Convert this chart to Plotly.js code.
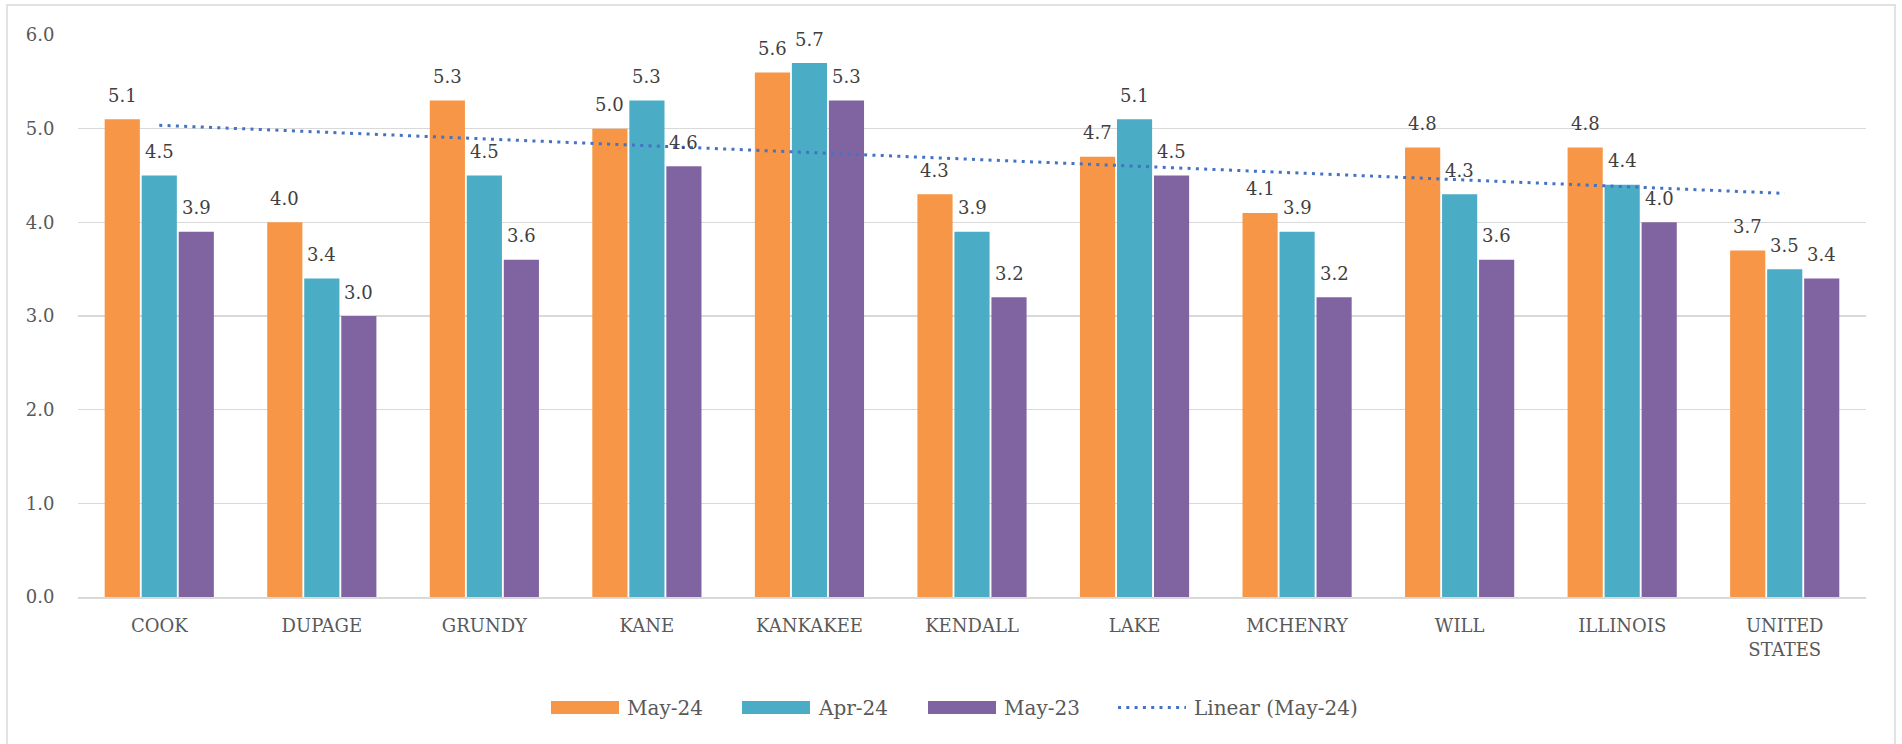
<!DOCTYPE html>
<html>
<head>
<meta charset="utf-8">
<script src="https://cdn.plot.ly/plotly-3.0.1.min.js"></script>
<style>
html,body{margin:0;padding:0;background:#fff;}
#chart{width:1902px;height:744px;}
</style>
</head>
<body>
<div id="chart"></div>
<script>
// ---- data ----
const categories = ["COOK","DUPAGE","GRUNDY","KANE","KANKAKEE","KENDALL","LAKE","MCHENRY","WILL","ILLINOIS","UNITED<br>STATES"];
const may24 = [5.1, 4.0, 5.3, 5.0, 5.6, 4.3, 4.7, 4.1, 4.8, 4.8, 3.7];
const apr24 = [4.5, 3.4, 4.5, 5.3, 5.7, 3.9, 5.1, 3.9, 4.3, 4.4, 3.5];
const may23 = [3.9, 3.0, 3.6, 4.6, 5.3, 3.2, 4.5, 3.2, 3.6, 4.0, 3.4];
const seriesNames = ["May-24", "Apr-24", "May-23"];
const trendName = "Linear (May-24)";
const yTicks = [0, 1, 2, 3, 4, 5, 6];

// ---- styles ----
const colors = ["#F79646", "#4BACC6", "#8064A2"];
const trendColor = "#4472C4";
const FONT = "DejaVu Serif, serif";
const TXT = "#595959";
const LBL = "#404040";
const DOT = "3px,5.3px";

// linear trendline (least squares on May-24, x = 1..n)
function linFit(vals){
  const n = vals.length;
  let sx=0, sy=0, sxx=0, sxy=0;
  vals.forEach((v,i)=>{const x=i+1; sx+=x; sy+=v; sxx+=x*x; sxy+=x*v;});
  const b = (n*sxy - sx*sy)/(n*sxx - sx*sx);
  const a = (sy - b*sx)/n;
  return vals.map((v,i)=>a + b*(i+1));
}
const trend = linFit(may24);

const allSeries = [may24, apr24, may23];
const bargap = 0.317;
const bargroupgap = 0.05;

const traces = [];
allSeries.forEach((vals, k) => {
  traces.push({
    type: "bar", x: categories, y: vals, name: seriesNames[k],
    marker: {color: colors[k]}, showlegend: false, hoverinfo: "x+y+name"
  });
});
traces.push({
  type: "scatter", mode: "lines", x: categories, y: trend, name: trendName,
  line: {color: trendColor, width: 3, dash: DOT}, showlegend: false
});

// data labels
const slot = (1 - bargap) / 3;
const annotations = [];
allSeries.forEach((vals, k) => {
  vals.forEach((v, i) => {
    annotations.push({
      xref: "x", yref: "y", x: i + (k - 1) * slot, y: v,
      text: v.toFixed(1), showarrow: false, yanchor: "middle", yshift: 24,
      font: {family: FONT, size: 18, color: LBL}
    });
  });
});

// geometry
const L = 78, R = 1866, T = 35, B = 597;
const pw = R - L, ph = B - T;
const px = v => (v - L) / pw, py = v => (B - v) / ph;

const shapes = [{
  type: "rect", xref: "paper", yref: "paper", layer: "below",
  x0: px(7), x1: px(1895), y0: py(748), y1: py(5),
  line: {color: "#d9d9d9", width: 1.5}, fillcolor: "rgba(0,0,0,0)"
}];

// legend (drawn manually so spacing matches the original)
const legY = 707.5;
const legSwatchX = [551, 742, 928, 1118];
const legSwatchW = 68;
const legNames = seriesNames.concat([trendName]);
legNames.forEach((name, i) => {
  const x0 = legSwatchX[i], x1 = x0 + legSwatchW;
  if (i < 3) {
    shapes.push({
      type: "rect", xref: "paper", yref: "paper",
      x0: px(x0), x1: px(x1), y0: py(legY + 6.5), y1: py(legY - 6.5),
      line: {width: 0}, fillcolor: colors[i]
    });
  } else {
    shapes.push({
      type: "line", xref: "paper", yref: "paper",
      x0: px(x0), x1: px(x1), y0: py(legY), y1: py(legY),
      line: {color: trendColor, width: 3, dash: DOT}
    });
  }
  annotations.push({
    xref: "paper", yref: "paper", x: px(x1 + 6), y: py(legY),
    xanchor: "left", yanchor: "middle", showarrow: false, text: name,
    font: {family: FONT, size: 20, color: TXT}
  });
});

const layout = {
  width: 1902, height: 744,
  margin: {l: L, r: 1902 - R, t: T, b: 744 - B, pad: 0},
  paper_bgcolor: "#fff", plot_bgcolor: "#fff",
  barmode: "group", bargap: bargap, bargroupgap: bargroupgap,
  font: {family: FONT, size: 18, color: TXT},
  showlegend: false,
  xaxis: {
    type: "category", showgrid: false, zeroline: false,
    showline: true, linecolor: "#d9d9d9", linewidth: 1.5,
    ticks: "outside", ticklen: 12, tickcolor: "rgba(0,0,0,0)",
    tickfont: {family: FONT, size: 18, color: TXT},
    range: [-0.5, categories.length - 0.5], fixedrange: true
  },
  yaxis: {
    range: [0, 6], tickvals: yTicks, ticktext: yTicks.map(v => v.toFixed(1)),
    showgrid: true, gridcolor: "#d9d9d9", gridwidth: 1.5, zeroline: false,
    ticks: "outside", ticklen: 19, tickcolor: "rgba(0,0,0,0)",
    tickfont: {family: FONT, size: 18, color: TXT}, fixedrange: true
  },
  annotations: annotations,
  shapes: shapes
};

Plotly.newPlot("chart", traces, layout, {displayModeBar: false, staticPlot: true});
</script>
</body>
</html>
